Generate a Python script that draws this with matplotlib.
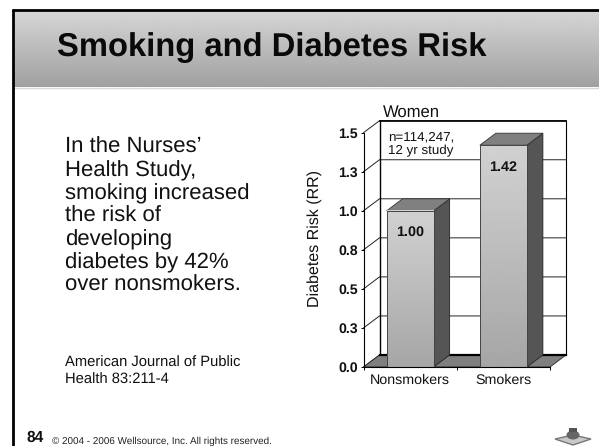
import numpy as np
import matplotlib
matplotlib.use("Agg")
import matplotlib.pyplot as plt
from matplotlib.patches import Polygon, Rectangle, Ellipse

plt.rcParams['font.family'] = ['Liberation Sans', 'DejaVu Sans']
plt.rcParams['text.hinting'] = 'none'

categories = ["Nonsmokers", "Smokers"]
values = [1.00, 1.42]
value_labels = ["1.00", "1.42"]
tick_values = [0, 0.25, 0.5, 0.75, 1.0, 1.25, 1.5]
tick_labels = ["0.0", "0.3", "0.5", "0.8", "1.0", "1.3", "1.5"]

W, H = 599, 446
fig = plt.figure(figsize=(W / 100, H / 100), dpi=100, facecolor="white")

# slide background
bg = fig.add_axes([0, 0, 1, 1], zorder=0)
grad = np.linspace(0.84, 0.63, 128)[:, None]
bg.imshow(grad, extent=[13, W, 87, 10], cmap="gray", vmin=0, vmax=1, aspect="auto", zorder=1)
bg.set_xlim(0, W); bg.set_ylim(H, 0); bg.axis("off")
bg.plot([13, W], [87.5, 87.5], color="#d8d8d8", lw=1.0, zorder=2, solid_capstyle="butt")
bg.plot([13.3, 13.3], [9, H], color="black", lw=2.0, zorder=3, solid_capstyle="butt")
bg.plot([12, W], [10.1, 10.1], color="black", lw=2.0, zorder=3, solid_capstyle="butt")
bg.text(57, 47.5, "Smoking and Diabetes Risk", fontsize=23.6, fontweight="bold", va="center", ha="left", color="#0a0a0a")
body = "In the Nurses’\nHealth Study,\nsmoking increased\nthe risk of\ndeveloping\ndiabetes by 42%\nover nonsmokers."
bg.text(65, 216.5, body, fontsize=15.9, va="center", ha="left", linespacing=1.155, color="#111111")
bg.text(65, 371.5, "American Journal of Public\nHealth 83:211-4", fontsize=10.6, va="center", ha="left", linespacing=1.25, color="#111111")
bg.text(26.5, 442, "84", fontsize=11.2, fontweight="bold", va="baseline", ha="left", color="#111111")
bg.text(52.5, 444, "© 2004 - 2006 Wellsource, Inc. All rights reserved.", fontsize=7.15, va="baseline", ha="left", color="#222222")
# small logo
bg.add_patch(Polygon([[555, 439], [573, 435], [591, 439], [573, 445]], fc="#c8c8c8", ec="#777777", lw=1.0, zorder=3))
bg.add_patch(Ellipse((573, 435), 13, 9, fc="#666666", ec="none", zorder=4))
bg.add_patch(Rectangle((569, 428), 8, 4, fc="#555555", ec="none", zorder=4))

# chart: axes spans the front plane
left, right, top, bottom = 363.5, 550.0, 132.7, 367.0
ax = fig.add_axes([left / W, 1 - bottom / H, (right - left) / W, (bottom - top) / H], zorder=2)
ax.patch.set_alpha(0)
ddx = 16 / (right - left) * 2
ddy = 12 / (bottom - top) * 1.5
x0, x1, y0, y1 = 0.5, 2.5, 0.0, 1.5

# back wall, gridlines, side wall
ax.add_patch(Rectangle((x0 + ddx, y0 + ddy), x1 - x0, y1 - y0, fc="white", ec="none", clip_on=False, zorder=1))
for t in tick_values:
    ax.plot([x0, x0 + ddx, x1 + ddx], [t, t + ddy, t + ddy], color="#222222", lw=0.7, clip_on=False, zorder=2, solid_joinstyle="miter")
ax.plot([x0 + ddx, x0 + ddx], [y0 + ddy, y1 + ddy], color="black", lw=1.0, clip_on=False, zorder=2)
ax.plot([x1 + ddx, x1 + ddx], [y0 + ddy, y1 + ddy], color="black", lw=0.8, clip_on=False, zorder=2)
ax.plot([x0 + ddx, x1 + ddx], [y1 + ddy, y1 + ddy], color="black", lw=1.2, clip_on=False, zorder=2)
# floor
ax.add_patch(Polygon([[x0, y0], [x1, y0], [x1 + ddx, y0 + ddy], [x0 + ddx, y0 + ddy]], fc="#7f7f7f", ec="#222222", lw=0.6, clip_on=False, zorder=3))
ax.plot([x0 + ddx, x1 + ddx], [y0 + ddy, y0 + ddy], color="black", lw=1.6, clip_on=False, zorder=3)

# bars
width = 0.504
positions = [1, 2]
bar_grad = np.linspace(0.82, 0.65, 128)[:, None]
for pos, val, lab in zip(positions, values, value_labels):
    l, r = pos - width / 2, pos + width / 2
    ax.add_patch(Polygon([[r, 0], [r + ddx, ddy], [r + ddx, val + ddy], [r, val]], fc="#555555", ec="#222222", lw=0.6, clip_on=False, zorder=4))
    ax.add_patch(Polygon([[l, val], [r, val], [r + ddx, val + ddy], [l + ddx, val + ddy]], fc="#808080", ec="#333333", lw=0.6, clip_on=False, zorder=4))
    ax.imshow(bar_grad, extent=[l, r, 0, val], cmap="gray", vmin=0, vmax=1, aspect="auto", zorder=4, clip_on=False)
    ax.add_patch(Rectangle((l, 0), width, val, fc="none", ec="#444444", lw=0.7, clip_on=False, zorder=5))
    ax.text(pos, val - 0.14, lab, fontsize=10.4, fontweight="bold", ha="center", va="center", color="#111111", zorder=6)
ax.set_xlim(0.5, 2.5)
ax.set_ylim(0, 1.5)

# axes
for s in ("top", "right"):
    ax.spines[s].set_visible(False)
for s in ("left", "bottom"):
    ax.spines[s].set_linewidth(0.8)
    ax.spines[s].set_zorder(7)
ax.set_xticks([0.5, 1.5, 2.5])
ax.set_xticklabels([])
ax.set_xticks(positions, minor=True)
ax.set_xticklabels(categories, minor=True, fontsize=10.3, color="#111111")
ax.tick_params(axis="x", which="minor", length=0, pad=5)
ax.tick_params(axis="x", which="major", length=2.5, width=0.7, direction="out")
ax.set_yticks(tick_values)
ax.set_yticklabels(tick_labels, fontsize=10.2, fontweight="bold", color="#111111")
ax.tick_params(axis="y", length=2.5, width=0.7, pad=1.5)
ax.set_ylabel("Diabetes Risk (RR)", fontsize=11.5, labelpad=12, color="#111111", y=0.55)
ax.text(x0 + ddx + 0.04, y1 + ddy + 0.005, "Women", fontsize=12, ha="left", va="bottom", color="#111111", clip_on=False)
ax.text(0.76, 1.429, "n=114,247,\n12 yr study", fontsize=9.6, ha="left", va="center", linespacing=1.15, color="#111111", zorder=3)

fig.savefig("out.png", dpi=100)
